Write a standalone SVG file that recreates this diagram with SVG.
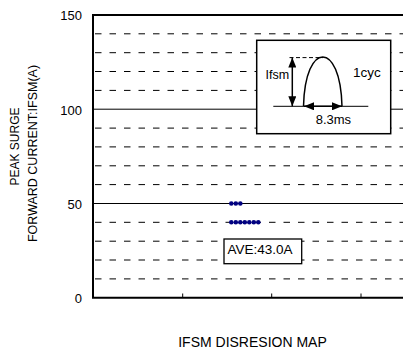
<svg xmlns="http://www.w3.org/2000/svg" width="403" height="352" viewBox="0 0 403 352">
<style>
text{font-family:"Liberation Sans",Arial,sans-serif;fill:#000}
.grid{stroke:#000;stroke-width:1;stroke-dasharray:6.5 8;fill:none}
.solid{stroke:#000;stroke-width:1;fill:none}
.axis{stroke:#000;stroke-width:2;fill:none}
.dot{fill:#000080}
.tick{font-size:13px;text-anchor:end}
</style>
<defs>
<marker id="ah" viewBox="0 0 10 8" refX="10" refY="4" markerWidth="10" markerHeight="8" markerUnits="userSpaceOnUse" orient="auto-start-reverse">
<path d="M0,0 L10,4 L0,8 Z" fill="#000"/>
</marker>
</defs>
<rect width="403" height="352" fill="#fff"/>
<g id="grid">
<line class="grid" x1="95" y1="33.8" x2="403" y2="33.8"/>
<line class="grid" x1="95" y1="52.7" x2="403" y2="52.7"/>
<line class="grid" x1="95" y1="71.5" x2="403" y2="71.5"/>
<line class="grid" x1="95" y1="90.4" x2="403" y2="90.4"/>
<line class="solid" x1="93" y1="109.2" x2="403" y2="109.2"/>
<line class="grid" x1="95" y1="128.1" x2="403" y2="128.1"/>
<line class="grid" x1="95" y1="146.9" x2="403" y2="146.9"/>
<line class="grid" x1="95" y1="165.8" x2="403" y2="165.8"/>
<line class="grid" x1="95" y1="184.6" x2="403" y2="184.6"/>
<line class="solid" x1="93" y1="203.5" x2="403" y2="203.5"/>
<line class="grid" x1="95" y1="222.3" x2="403" y2="222.3"/>
<line class="grid" x1="95" y1="241.2" x2="403" y2="241.2"/>
<line class="grid" x1="95" y1="260" x2="403" y2="260"/>
<line class="grid" x1="95" y1="278.9" x2="403" y2="278.9"/>
</g>
<g id="axes">
<path class="axis" d="M403,15 H93 V297.7 H403"/>
<line class="solid" x1="182.7" y1="297.7" x2="182.7" y2="293.5"/>
<line class="solid" x1="271.7" y1="297.7" x2="271.7" y2="293.5"/>
<line class="solid" x1="361" y1="297.7" x2="361" y2="293.5"/>
<text class="tick" x="82" y="20">150</text>
<text class="tick" x="82" y="114.5">100</text>
<text class="tick" x="82" y="208.5">50</text>
<text class="tick" x="82" y="303">0</text>
<text x="18.5" y="146.5" font-size="12" text-anchor="middle" transform="rotate(-90 18.5 146.5)">PEAK SURGE</text>
<text x="37" y="153.5" font-size="12.5" text-anchor="middle" transform="rotate(-90 37 153.5)">FORWARD CURRENT:IFSM(A)</text>
<text x="252.5" y="346.5" font-size="14" text-anchor="middle">IFSM DISRESION MAP</text>
</g>
<g id="dots">
<circle class="dot" cx="231.3" cy="203.5" r="2.3"/>
<circle class="dot" cx="235.8" cy="203.5" r="2.3"/>
<circle class="dot" cx="240.3" cy="203.5" r="2.3"/>
<circle class="dot" cx="231.3" cy="222.3" r="2.3"/>
<circle class="dot" cx="235.8" cy="222.3" r="2.3"/>
<circle class="dot" cx="240.3" cy="222.3" r="2.3"/>
<circle class="dot" cx="244.8" cy="222.3" r="2.3"/>
<circle class="dot" cx="249.3" cy="222.3" r="2.3"/>
<circle class="dot" cx="253.8" cy="222.3" r="2.3"/>
<circle class="dot" cx="258.3" cy="222.3" r="2.3"/>
</g>
<g id="ave">
<rect x="224" y="239" width="77.7" height="24.7" fill="#fff" stroke="#000" stroke-width="1.3"/>
<text x="227.5" y="254.3" font-size="13.5">AVE:43.0A</text>
</g>
<g id="inset">
<rect x="256.7" y="40.3" width="134" height="93.4" fill="#fff" stroke="#000" stroke-width="1.5"/>
<line class="solid" x1="273.3" y1="106.3" x2="368.3" y2="106.3" stroke-width="1.3"/>
<path d="M303.5,106.3 C305,40.5 340.5,40.5 342,106.3" fill="none" stroke="#000" stroke-width="1.5"/>
<line x1="289.5" y1="57.6" x2="323" y2="57.6" stroke="#000" stroke-width="1" stroke-dasharray="4 2.5"/>
</g>
<g id="connectors">
<line x1="292.3" y1="57.6" x2="292.3" y2="106.3" stroke="#000" stroke-width="1.5" marker-start="url(#ah)" marker-end="url(#ah)"/>
<line x1="304" y1="106.3" x2="342" y2="106.3" stroke="#000" stroke-width="1.5" marker-start="url(#ah)" marker-end="url(#ah)"/>
</g>
<g id="inset-labels">
<text x="265.5" y="79.3" font-size="12.5">Ifsm</text>
<text x="353" y="77.3" font-size="13.5">1cyc</text>
<text x="315.7" y="124.3" font-size="13">8.3ms</text>
</g>
</svg>
